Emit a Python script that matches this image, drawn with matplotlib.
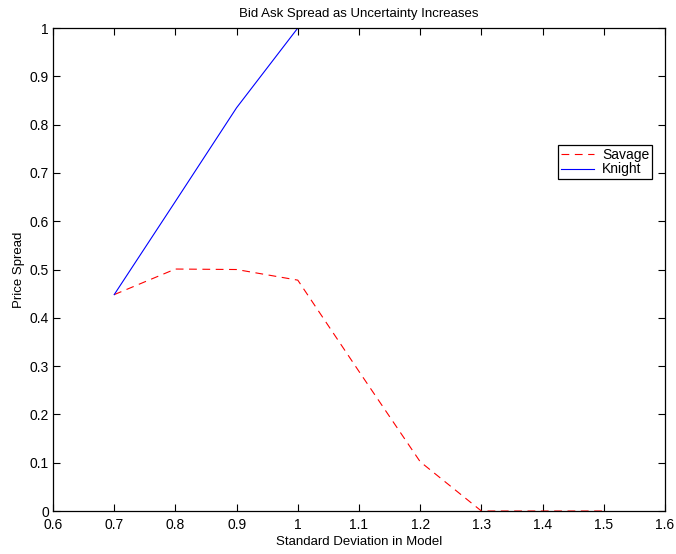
import numpy as np
from matplotlib import pyplot as plt

plt.rcParams['font.family'] = ['Liberation Sans', 'DejaVu Sans']

#values
sigma = [0.7, 0.8, 0.9, 1.0, 1.1, 1.2, 1.3, 1.4, 1.5]
savage = [0.448, 0.501, 0.5, 0.478, 0.289, 0.102, 0.0, 0.0, 0.0]
knight = [0.448, 0.641, 0.835, 1.0, 1.0, 1.0, 1.0, 1.0, 1.0]

fig = plt.figure(figsize=(6.76, 5.54), dpi=100)
ax = fig.add_axes([0.0784, 0.0776, 0.9053, 0.8718])

ax.plot(sigma, savage, color="red", linestyle=(0, (7, 5)), linewidth=0.8, label="Savage")
ax.plot(sigma, knight, color="blue", linewidth=0.8, label="Knight")

ax.set_xlim(0.6, 1.6)
ax.set_ylim(0, 1)
ax.set_xticks(np.arange(0.6, 1.61, 0.1))
ax.set_xticklabels(["0.6", "0.7", "0.8", "0.9", "1", "1.1", "1.2", "1.3", "1.4", "1.5", "1.6"])
ax.set_yticks(np.arange(0, 1.01, 0.1))
ax.set_yticklabels(["0", "0.1", "0.2", "0.3", "0.4", "0.5", "0.6", "0.7", "0.8", "0.9", "1"])
ax.tick_params(direction="in", length=5, labelsize=10, top=True, right=True, pad=3)
ax.tick_params(axis="x", pad=5)
for s in ax.spines.values():
    s.set_linewidth(0.9)

ax.set_xlabel("Standard Deviation in Model", fontsize=9.5, labelpad=3)
ax.set_ylabel("Price Spread", fontsize=9.5, labelpad=3)
ax.set_title("Bid Ask Spread as Uncertainty Increases", fontsize=9.5, pad=8)

leg = ax.legend(loc="upper left", bbox_to_anchor=(0.825, 0.758), fontsize=10, fancybox=False,
                edgecolor="black", framealpha=1, borderpad=0.2, handlelength=2.4,
                labelspacing=0.05, handletextpad=0.6, borderaxespad=0)
leg.get_frame().set_linewidth(0.9)

plt.savefig("out.png", dpi=100)
